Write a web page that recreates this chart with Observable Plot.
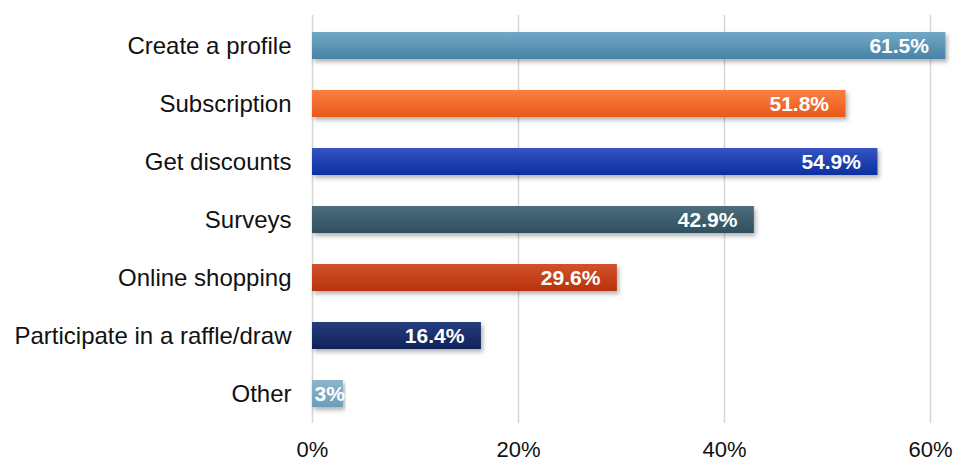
<!DOCTYPE html>
<html><head><meta charset="utf-8">
<script src="https://cdn.jsdelivr.net/npm/d3@7"></script>
<script src="https://cdn.jsdelivr.net/npm/@observablehq/plot@0.6"></script>
<style>
body{margin:0;background:#fff;}
svg{font-family:"Liberation Sans",Arial,sans-serif;}
</style>
</head><body><div id="chart"></div>
<script>
const categories = ["Create a profile","Subscription","Get discounts","Surveys","Online shopping","Participate in a raffle/draw","Other"];
const values = [61.5, 51.8, 54.9, 42.9, 29.6, 16.4, 3];
const xTicks = [0, 20, 40, 60];
const palette = [
  ["#72a8c6", "#4783a6"],
  ["#f97f42", "#ea5a1a"],
  ["#3554c2", "#0c2fa0"],
  ["#4d6d7c", "#2f4f5f"],
  ["#d2522c", "#b8320a"],
  ["#263d7e", "#0f2258"],
  ["#8bb6cd", "#6d9cb8"]
];

const data = categories.map((c, i) => ({category: c, value: values[i], fill: `url(#grad${i})`, label: values[i] + "%"}));

const chart = Plot.plot({
  width: 956, height: 462,
  marginTop: 15, marginBottom: 39, marginLeft: 312, marginRight: 26,
  style: {fontFamily: '"Liberation Sans", Arial, sans-serif', background: "#fff", color: "#111"},
  x: {domain: [0, 60], axis: null},
  y: {domain: categories, paddingInner: 0.537, paddingOuter: 0.266, axis: null},
  color: {type: "identity"},
  marks: [
    Plot.ruleX(xTicks, {stroke: "#d6d6d6", strokeWidth: 1.5}),
    Plot.barX(data, {x: "value", y: "category", fill: "fill"}),
    Plot.text(data.filter(d => d.value >= 10), {x: "value", y: "category", text: "label", textAnchor: "end", dx: -17, fill: "white", fontWeight: "bold", fontSize: 21}),
    Plot.text(data.filter(d => d.value < 10), {x: 0, y: "category", text: "label", textAnchor: "start", dx: 2, fill: "white", fontWeight: "bold", fontSize: 21}),
    Plot.axisX(xTicks, {tickSize: 0, tickPadding: 18, fontSize: 22, label: null, tickFormat: d => d + "%"}),
    Plot.axisY({tickSize: 0, tickPadding: 21, fontSize: 24, label: null})
  ]
});

const svg = d3.select(chart);
const defs = svg.insert("defs", ":first-child");
palette.forEach((p, i) => {
  const g = defs.append("linearGradient").attr("id", "grad" + i).attr("x1", 0).attr("y1", 0).attr("x2", 0).attr("y2", 1);
  g.append("stop").attr("offset", "0%").attr("stop-color", p[0]);
  g.append("stop").attr("offset", "100%").attr("stop-color", p[1]);
});
const f = defs.append("filter").attr("id", "shadow").attr("x", "-5%").attr("y", "-20%").attr("width", "115%").attr("height", "160%");
f.append("feDropShadow").attr("dx", 2).attr("dy", 3).attr("stdDeviation", 2).attr("flood-color", "#000").attr("flood-opacity", 0.3);
svg.selectAll('g[aria-label="bar"] rect').attr("filter", "url(#shadow)");

document.getElementById("chart").appendChild(chart);
</script>
</body></html>
